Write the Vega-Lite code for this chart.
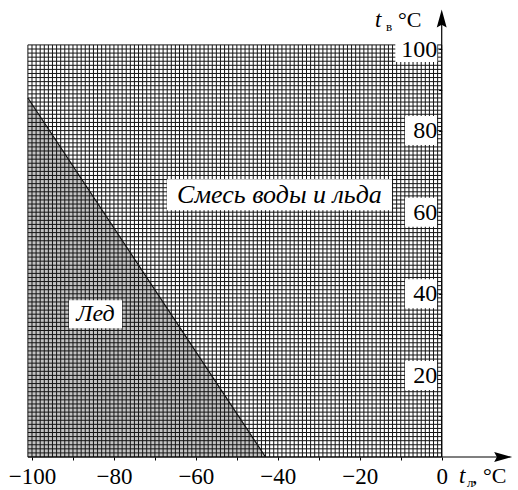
{
  "$schema": "https://vega.github.io/schema/vega-lite/v6.json",
  "width": 518,
  "height": 490,
  "autosize": "none",
  "padding": 0,
  "background": "white",
  "config": {"view": {"stroke": null}},
  "datasets": {
    "vg": [{"v":-101},{"v":-100},{"v":-99},{"v":-98},{"v":-97},{"v":-96},{"v":-95},{"v":-94},{"v":-93},{"v":-92},{"v":-91},{"v":-90},{"v":-89},{"v":-88},{"v":-87},{"v":-86},{"v":-85},{"v":-84},{"v":-83},{"v":-82},{"v":-81},{"v":-80},{"v":-79},{"v":-78},{"v":-77},{"v":-76},{"v":-75},{"v":-74},{"v":-73},{"v":-72},{"v":-71},{"v":-70},{"v":-69},{"v":-68},{"v":-67},{"v":-66},{"v":-65},{"v":-64},{"v":-63},{"v":-62},{"v":-61},{"v":-60},{"v":-59},{"v":-58},{"v":-57},{"v":-56},{"v":-55},{"v":-54},{"v":-53},{"v":-52},{"v":-51},{"v":-50},{"v":-49},{"v":-48},{"v":-47},{"v":-46},{"v":-45},{"v":-44},{"v":-43},{"v":-42},{"v":-41},{"v":-40},{"v":-39},{"v":-38},{"v":-37},{"v":-36},{"v":-35},{"v":-34},{"v":-33},{"v":-32},{"v":-31},{"v":-30},{"v":-29},{"v":-28},{"v":-27},{"v":-26},{"v":-25},{"v":-24},{"v":-23},{"v":-22},{"v":-21},{"v":-20},{"v":-19},{"v":-18},{"v":-17},{"v":-16},{"v":-15},{"v":-14},{"v":-13},{"v":-12},{"v":-11},{"v":-10},{"v":-9},{"v":-8},{"v":-7},{"v":-6},{"v":-5},{"v":-4},{"v":-3},{"v":-2},{"v":-1},{"v":0}],
    "hg": [{"h":0},{"h":1},{"h":2},{"h":3},{"h":4},{"h":5},{"h":6},{"h":7},{"h":8},{"h":9},{"h":10},{"h":11},{"h":12},{"h":13},{"h":14},{"h":15},{"h":16},{"h":17},{"h":18},{"h":19},{"h":20},{"h":21},{"h":22},{"h":23},{"h":24},{"h":25},{"h":26},{"h":27},{"h":28},{"h":29},{"h":30},{"h":31},{"h":32},{"h":33},{"h":34},{"h":35},{"h":36},{"h":37},{"h":38},{"h":39},{"h":40},{"h":41},{"h":42},{"h":43},{"h":44},{"h":45},{"h":46},{"h":47},{"h":48},{"h":49},{"h":50},{"h":51},{"h":52},{"h":53},{"h":54},{"h":55},{"h":56},{"h":57},{"h":58},{"h":59},{"h":60},{"h":61},{"h":62},{"h":63},{"h":64},{"h":65},{"h":66},{"h":67},{"h":68},{"h":69},{"h":70},{"h":71},{"h":72},{"h":73},{"h":74},{"h":75},{"h":76},{"h":77},{"h":78},{"h":79},{"h":80},{"h":81},{"h":82},{"h":83},{"h":84},{"h":85},{"h":86},{"h":87},{"h":88},{"h":89},{"h":90},{"h":91},{"h":92},{"h":93},{"h":94},{"h":95},{"h":96},{"h":97},{"h":98},{"h":99},{"h":100},{"h":101}],
    "ice": [{"tl":-101,"tv":88},{"tl":-43,"tv":0}],
    "ylab2": [{"v":20},{"v":40},{"v":60},{"v":80}],
    "ylab3": [{"v":100}],
    "regions": [{"name":"Смесь воды и льда","tl":-39.6,"tv":64.3,"kind":"mix"},{"name":"Лед","tl":-84.5,"tv":35.0,"kind":"ice"}],
    "tmain": [{"s":"t","tl":4.22,"tv":-6.4},{"s":"t","tl":-16.28,"tv":105.4}],
    "tsub": [{"s":"л","tl":6.17,"tv":-7.4},{"s":"в","tl":-13.6,"tv":104.4}],
    "tunit": [{"s":", °C","tl":7.4,"tv":-6.4},{"s":"°C","tl":-10.67,"tv":105.4}],
    "one": [{"k":1}]
  },
  "layer": [
    {
      "data": {"name": "ice"},
      "mark": {"type": "area", "color": "#c2c2c2", "opacity": 1},
      "encoding": {
        "x": {"field": "tl", "type": "quantitative",
          "scale": {"domain": [-107.81, 18.62], "nice": false, "zero": false},
          "axis": {"values": [-100,-90,-80,-70,-60,-50,-40,-30,-20,-10,0], "offset": -33, "orient": "bottom",
            "labelExpr": "datum.value % 20 == 0 ? datum.label : ''",
            "domain": false, "grid": false, "ticks": true, "tickSize": 3, "tickColor": "black", "tickWidth": 1,
            "labelFont": "Liberation Serif", "labelFontSize": 23, "labelColor": "black", "labelPadding": 5,
            "labelFlush": false, "labelOverlap": false, "labelBound": false, "title": null, "zindex": 2}},
        "y": {"field": "tv", "type": "quantitative",
          "scale": {"domain": [-8.09, 112.01], "nice": false, "zero": false},
          "axis": {"values": [10,20,30,40,50,60,70,80,90,100], "offset": -441.7, "orient": "left",
            "labelExpr": "datum.value % 20 == 0 ? datum.label : ''",
            "domain": false, "grid": false, "ticks": true, "tickSize": 3, "tickColor": "black", "tickWidth": 1,
            "labelFont": "Liberation Serif", "labelFontSize": 24, "labelColor": "black", "labelPadding": 2,
            "labelBaseline": "middle", "labelFlush": false, "labelOverlap": false, "labelBound": false, "title": null, "zindex": 2}},
        "y2": {"datum": 0}
      }
    },
    {
      "data": {"name": "vg"},
      "mark": {"type": "rule", "color": "#151515", "strokeWidth": 1},
      "encoding": {
        "x": {"field": "v", "type": "quantitative"},
        "y": {"datum": 0},
        "y2": {"datum": 101}
      }
    },
    {
      "data": {"name": "hg"},
      "mark": {"type": "rule", "color": "#151515", "strokeWidth": 1},
      "encoding": {
        "y": {"field": "h", "type": "quantitative"},
        "x": {"datum": -101},
        "x2": {"datum": 0}
      }
    },
    {
      "data": {"name": "ice"},
      "mark": {"type": "line", "color": "#111111", "strokeWidth": 1.2},
      "encoding": {
        "x": {"field": "tl", "type": "quantitative"},
        "y": {"field": "tv", "type": "quantitative"}
      }
    },
    {
      "data": {"name": "ylab2"},
      "mark": {"type": "rect", "color": "white", "width": 32, "height": 29},
      "encoding": {
        "x": {"datum": -5.05},
        "y": {"field": "v", "type": "quantitative"}
      }
    },
    {
      "data": {"name": "ylab3"},
      "mark": {"type": "rect", "color": "white", "width": 42, "height": 26},
      "encoding": {
        "x": {"datum": -6.2},
        "y": {"field": "v", "type": "quantitative"}
      }
    },
    {
      "data": {"name": "regions"},
      "transform": [{"filter": "datum.kind == 'mix'"}],
      "mark": {"type": "rect", "color": "white", "width": 225, "height": 31},
      "encoding": {
        "x": {"field": "tl", "type": "quantitative"},
        "y": {"field": "tv", "type": "quantitative"}
      }
    },
    {
      "data": {"name": "regions"},
      "transform": [{"filter": "datum.kind == 'ice'"}],
      "mark": {"type": "rect", "color": "white", "width": 53, "height": 28},
      "encoding": {
        "x": {"field": "tl", "type": "quantitative"},
        "y": {"field": "tv", "type": "quantitative"}
      }
    },
    {
      "data": {"name": "regions"},
      "transform": [{"filter": "datum.kind == 'mix'"}],
      "mark": {"type": "text", "font": "Liberation Serif", "fontStyle": "italic", "fontSize": 26, "color": "black", "align": "center", "baseline": "middle"},
      "encoding": {
        "x": {"field": "tl", "type": "quantitative"},
        "y": {"field": "tv", "type": "quantitative"},
        "text": {"field": "name"}
      }
    },
    {
      "data": {"name": "regions"},
      "transform": [{"filter": "datum.kind == 'ice'"}],
      "mark": {"type": "text", "font": "Liberation Serif", "fontStyle": "italic", "fontSize": 24, "color": "black", "align": "center", "baseline": "middle"},
      "encoding": {
        "x": {"field": "tl", "type": "quantitative"},
        "y": {"field": "tv", "type": "quantitative"},
        "text": {"field": "name"}
      }
    },
    {
      "data": {"name": "tmain"},
      "mark": {"type": "text", "font": "Liberation Serif", "fontStyle": "italic", "fontSize": 23, "color": "black", "align": "left", "baseline": "alphabetic"},
      "encoding": {
        "x": {"field": "tl", "type": "quantitative"},
        "y": {"field": "tv", "type": "quantitative"},
        "text": {"field": "s"}
      }
    },
    {
      "data": {"name": "tsub"},
      "mark": {"type": "text", "font": "Liberation Serif", "fontSize": 13, "color": "black", "align": "left", "baseline": "alphabetic"},
      "encoding": {
        "x": {"field": "tl", "type": "quantitative"},
        "y": {"field": "tv", "type": "quantitative"},
        "text": {"field": "s"}
      }
    },
    {
      "data": {"name": "tunit"},
      "mark": {"type": "text", "font": "Liberation Serif", "fontSize": 22, "color": "black", "align": "left", "baseline": "alphabetic"},
      "encoding": {
        "x": {"field": "tl", "type": "quantitative"},
        "y": {"field": "tv", "type": "quantitative"},
        "text": {"field": "s"}
      }
    },
    {
      "data": {"name": "one"},
      "mark": {"type": "rule", "color": "black", "strokeWidth": 1.2},
      "encoding": {
        "x": {"datum": -101},
        "x2": {"datum": 16},
        "y": {"datum": 0}
      }
    },
    {
      "data": {"name": "one"},
      "mark": {"type": "rule", "color": "black", "strokeWidth": 1.2},
      "encoding": {
        "x": {"datum": 0},
        "y": {"datum": 0},
        "y2": {"datum": 108}
      }
    },
    {
      "data": {"name": "one"},
      "mark": {"type": "point", "filled": true, "color": "black", "opacity": 1, "size": 324, "shape": "M0,-1L0.55,1L0,0.7L-0.55,1Z"},
      "encoding": {
        "x": {"datum": 0},
        "y": {"datum": 107.5}
      }
    },
    {
      "data": {"name": "one"},
      "mark": {"type": "point", "filled": true, "color": "black", "opacity": 1, "size": 324, "shape": "M1,0L-1,0.55L-0.7,0L-1,-0.55Z"},
      "encoding": {
        "x": {"datum": 15.0},
        "y": {"datum": 0}
      }
    }
  ]
}
